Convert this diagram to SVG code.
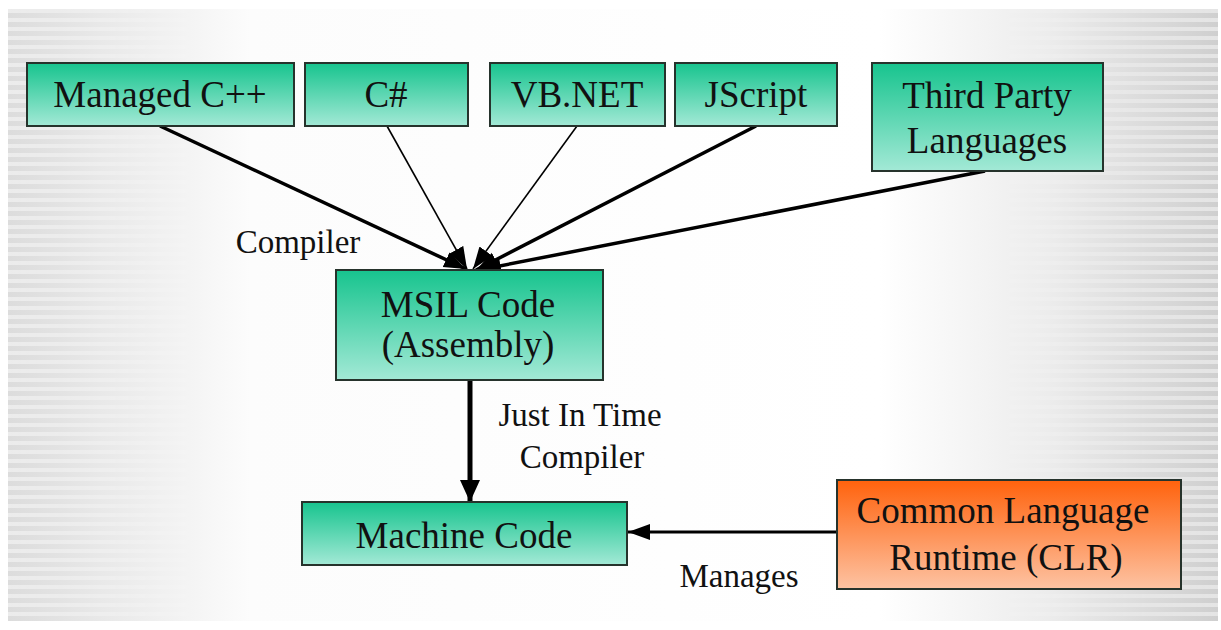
<svg xmlns="http://www.w3.org/2000/svg" width="1221" height="630" viewBox="0 0 1221 630">
<style>
.box{stroke:#26332c;stroke-width:2}
.g{fill:url(#green)}
.o{fill:url(#orange)}
.t{font-family:"Liberation Serif","Times New Roman",serif;font-size:37px;fill:#111;text-anchor:middle}
.l{font-family:"Liberation Serif","Times New Roman",serif;font-size:33px;fill:#111;text-anchor:middle}
.c{stroke:#000;fill:none}
</style>
<defs>
<linearGradient id="green" x1="0" y1="0" x2="0" y2="1">
<stop offset="0" stop-color="#17c48e"/>
<stop offset="1" stop-color="#a3e9d6"/>
</linearGradient>
<linearGradient id="orange" x1="0" y1="0" x2="0" y2="1">
<stop offset="0" stop-color="#ff620c"/>
<stop offset="1" stop-color="#fdc3a3"/>
</linearGradient>
<linearGradient id="bg" x1="0" y1="0" x2="1" y2="0">
<stop offset="0" stop-color="#dcdcdc"/>
<stop offset="0.2" stop-color="#fcfcfc"/>
<stop offset="0.72" stop-color="#ffffff"/>
<stop offset="0.86" stop-color="#ececec"/>
<stop offset="1" stop-color="#cfcfcf"/>
</linearGradient>
<linearGradient id="stripeMask" x1="0" y1="0" x2="1" y2="0">
<stop offset="0" stop-color="#fff" stop-opacity="1"/>
<stop offset="0.18" stop-color="#fff" stop-opacity="0"/>
<stop offset="0.8" stop-color="#fff" stop-opacity="0"/>
<stop offset="1" stop-color="#fff" stop-opacity="1"/>
</linearGradient>
<mask id="m">
<rect x="8" y="9" width="1210" height="612" fill="url(#stripeMask)"/>
</mask>
<pattern id="stripes" x="0" y="0" width="10" height="9" patternUnits="userSpaceOnUse">
<rect x="0" y="0" width="10" height="4" fill="#ffffff" opacity="0.45"/>
</pattern>
<marker id="ah" markerUnits="userSpaceOnUse" markerWidth="24" markerHeight="18" refX="22" refY="8" orient="auto">
<path d="M0,0 L22,8 L0,16 z" fill="#000"/>
</marker>
<marker id="ahb" markerUnits="userSpaceOnUse" markerWidth="24" markerHeight="22" refX="22" refY="10" orient="auto">
<path d="M0,0 L22,10 L0,20 z" fill="#000"/>
</marker>
</defs>
<rect x="0" y="0" width="1221" height="630" fill="#ffffff"/>
<rect x="8" y="9" width="1210" height="612" fill="url(#bg)"/>
<rect x="8" y="9" width="1210" height="612" fill="url(#stripes)" mask="url(#m)"/>

<g id="connectors">
<line class="c" x1="160" y1="126" x2="466" y2="269" stroke-width="3.5" marker-end="url(#ah)"/>
<line class="c" x1="387" y1="126" x2="467" y2="269" stroke-width="1.6" marker-end="url(#ah)"/>
<line class="c" x1="577" y1="126" x2="473" y2="269" stroke-width="1.6" marker-end="url(#ah)"/>
<line class="c" x1="756" y1="126" x2="476" y2="270" stroke-width="3.5" marker-end="url(#ah)"/>
<line class="c" x1="985" y1="171" x2="479" y2="270" stroke-width="3.5" marker-end="url(#ah)"/>
<line class="c" x1="470" y1="380" x2="470" y2="502" stroke-width="5" marker-end="url(#ahb)"/>
<line class="c" x1="837" y1="532" x2="628" y2="532" stroke-width="3" marker-end="url(#ah)"/>
<text class="l" x="298" y="253">Compiler</text>
<text class="l" x="580" y="426">Just In Time</text>
<text class="l" x="582" y="468">Compiler</text>
<text class="l" x="739" y="587">Manages</text>
</g>

<g id="managedcpp">
<rect class="box g" x="27" y="63" width="267" height="63"/>
<text class="t" x="160" y="107">Managed C++</text>
</g>
<g id="csharp">
<rect class="box g" x="305" y="63" width="163" height="63"/>
<text class="t" x="386" y="107">C#</text>
</g>
<g id="vbnet">
<rect class="box g" x="490" y="63" width="175" height="63"/>
<text class="t" x="577" y="107">VB.NET</text>
</g>
<g id="jscript">
<rect class="box g" x="675" y="63" width="162" height="63"/>
<text class="t" x="756" y="107">JScript</text>
</g>
<g id="thirdparty">
<rect class="box g" x="872" y="63" width="231" height="108"/>
<text class="t" x="987" y="108">Third Party</text>
<text class="t" x="987" y="153">Languages</text>
</g>
<g id="msil">
<rect class="box g" x="336" y="270" width="267" height="110"/>
<text class="t" x="468" y="317">MSIL Code</text>
<text class="t" x="468" y="357">(Assembly)</text>
</g>
<g id="machine">
<rect class="box g" x="302" y="502" width="325" height="63"/>
<text class="t" x="464" y="548">Machine Code</text>
</g>
<g id="clr">
<rect class="box o" x="837" y="480" width="344" height="109"/>
<text class="t" x="1003" y="523">Common Language</text>
<text class="t" x="1006" y="570">Runtime (CLR)</text>
</g>
</svg>
